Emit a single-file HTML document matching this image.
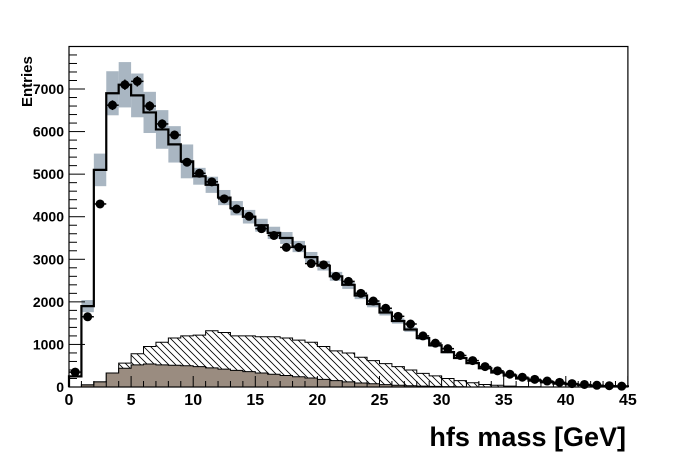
<!DOCTYPE html><html><head><style>html,body{margin:0;padding:0;background:#fff}svg{display:block}text{font-family:"Liberation Sans",Arial,sans-serif;font-weight:bold}</style></head><body>
<svg id="s" width="696" height="472" xmlns="http://www.w3.org/2000/svg">
<defs><pattern id="h" patternUnits="userSpaceOnUse" width="7" height="7"><path d="M-1,-1 L8,8 M-8,-1 L1,8 M6,-1 L15,8" stroke="#000" stroke-width="0.8"/></pattern></defs>
<rect x="0" y="0" width="696" height="472" fill="#fff"/>
<g id="g"></g>
</svg>
<script>
const X0=69,SX=12.42,Y0=387,SY=0.04257;
const px=v=>X0+v*SX, py=v=>Y0-v*SY;
const mc=[250,1900,5100,6900,7100,6850,6450,6050,5700,5300,4950,4750,4450,4200,4000,3800,3620,3500,3300,3050,2850,2600,2400,2150,1950,1750,1550,1350,1150,980,820,680,560,440,340,270,200,150,110,80,60,45,30,20,15];
const da=[350,1650,4300,6620,7100,7180,6600,6180,5920,5280,5020,4820,4420,4180,4010,3720,3560,3280,3280,2900,2870,2600,2480,2200,2020,1850,1660,1480,1200,1030,900,740,620,480,380,300,230,180,140,110,80,60,40,30,20];
const ht=[0,50,120,330,560,780,950,1050,1150,1200,1220,1320,1280,1200,1200,1180,1180,1150,1100,1050,950,850,800,700,620,550,480,400,320,260,200,150,100,60,40,20,10,5,0,0,0,0,0,0,0];
const br=[0,50,120,330,440,520,540,520,510,500,480,450,420,390,360,330,300,270,240,210,180,150,120,95,75,55,40,30,20,15,10,5,0,0,0,0,0,0,0,0,0,0,0,0,0];
let s='';
function step(a){let d='M'+px(0)+','+py(0);for(let i=0;i<a.length;i++){d+=' L'+px(i)+','+py(a[i])+' L'+px(i+1)+','+py(a[i]);}return d+' L'+px(a.length)+','+py(0);}
for(let i=0;i<45;i++){const e=mc[i]*(i<10?0.075:0.04);if(i>30)continue;s+=`<rect x="${px(i)}" y="${py(mc[i]+e)}" width="${SX}" height="${2*e*SY}" fill="#a9b6c2"/>`;}
s+=`<path d="${step(ht)} Z" fill="url(#h)" stroke="#000" stroke-width="1"/>`;
s+=`<path d="${step(br)} Z" fill="#9a8c80" stroke="#000" stroke-width="1"/>`;
s+=`<path d="${step(mc)}" fill="none" stroke="#000" stroke-width="2.2"/>`;
for(let i=0;i<45;i++){const x=px(i+0.5),y=py(da[i]);s+=`<line x1="${x}" y1="${py(da[i]*1.015+15)}" x2="${x}" y2="${py(da[i]*0.985-15)}" stroke="#000" stroke-width="1.5"/><line x1="${x-SX/2}" y1="${y}" x2="${x+SX/2}" y2="${y}" stroke="#000" stroke-width="1.5"/><circle cx="${x}" cy="${y}" r="4.5" fill="#000"/>`;}
s+=`<rect x="${X0}" y="46.5" width="${px(45)-X0}" height="${Y0-46.5}" fill="none" stroke="#000" stroke-width="1.2"/>`;
for(let v=0;v<=7900;v+=200){const y=py(v),L=v%1000==0?16:8;s+=`<line x1="${X0}" y1="${y}" x2="${X0+L}" y2="${y}" stroke="#000"/>`;if(v%1000==0)s+=`<text x="64" y="${y+5}" font-size="14" text-anchor="end">${v}</text>`;}
for(let v=0;v<=45;v++){const x=px(v),L=v%5==0?11:6;s+=`<line x1="${x}" y1="${Y0}" x2="${x}" y2="${Y0-L}" stroke="#000"/>`;if(v%5==0)s+=`<text x="${x}" y="405" font-size="16" text-anchor="middle">${v}</text>`;}
s+=`<text transform="translate(32,107) rotate(-90)" font-size="15">Entries</text>`;
s+=`<text x="626" y="446" font-size="27" text-anchor="end">hfs mass [GeV]</text>`;
document.getElementById('g').innerHTML=s;
</script>
</body></html>
